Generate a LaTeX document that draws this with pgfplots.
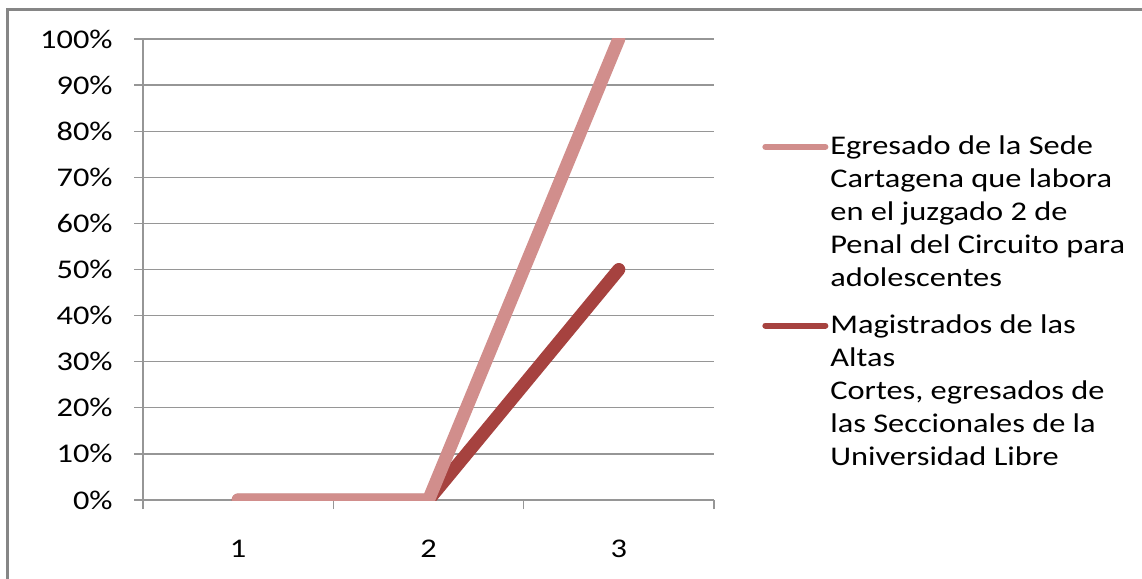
\documentclass[border=0pt]{standalone}
\usepackage{pgfplots}
\pgfplotsset{compat=1.18}
\usepackage{fontspec}
\setmainfont{Carlito}[FakeStretch=1.2]
\definecolor{lightred}{RGB}{209,142,140}
\definecolor{darkred}{RGB}{166,66,63}
\definecolor{gridgray}{RGB}{150,150,150}
\definecolor{bordergray}{RGB}{134,134,134}
\begin{document}
\begin{tikzpicture}[x=1pt,y=1pt]
\useasboundingbox (0,0) rectangle (571,289.5);
\draw[bordergray, line width=1.5pt] (3.75,-20) -- (3.75,284.85) -- (600,284.85);
\begin{axis}[
  at={(71.5pt,39.5pt)}, anchor=south west,
  scale only axis, width=285.5pt, height=230.5pt,
  xmin=0.5, xmax=3.5, ymin=0, ymax=100,
  axis lines=left, axis line style={-, gridgray, line width=0.6pt},
  xtick={1,2,3}, ytick={0,10,...,100},
  minor xtick={0.5,1.5,2.5,3.5}, minor ytick={0,10,...,100},
  major tick length=0pt, minor tick length=4.5pt, tick align=outside,
  minor tick style={gridgray, line width=0.6pt},
  ymajorgrids, major grid style={gridgray, line width=0.6pt},
  font=\fontsize{13.5}{16.5}\selectfont,
  /pgf/number format/assume math mode=true,
  yticklabel={\pgfmathprintnumber{\tick}\%},
  yticklabel style={anchor=east, inner sep=0pt, xshift=-15pt},
  xticklabel style={anchor=north, inner sep=0pt, yshift=-20pt},
  legend style={at={(1.084,0.799)}, anchor=north west, draw=none, fill=none,
    inner sep=0pt, row sep=74.5pt, column sep=-1pt, cells={anchor=base west},
    font=\fontsize{13.5}{16.5}\selectfont},
  legend image code/.code={\draw[#1, line width=3pt, line cap=round] (1.5pt,4pt) -- (31.5pt,4pt);},
]
\addlegendimage{lightred}
\addlegendentry{\parbox[t]{160pt}{Egresado de la Sede\\Cartagena que labora\\en el juzgado 2 de\\Penal del Circuito para\\adolescentes}}
\addlegendimage{darkred}
\addlegendentry{\parbox[t]{160pt}{Magistrados de las\\Altas\\Cortes, egresados de\\las Seccionales de la\\Universidad Libre}}
\addplot[darkred, line width=6.5pt, line cap=round, line join=round, forget plot] coordinates {(1,0) (2,0) (3,50)};
\addplot[lightred, line width=6.5pt, line cap=round, line join=round, forget plot] coordinates {(1,0) (2,0) (3,100)};
\end{axis}
\end{tikzpicture}
\end{document}
